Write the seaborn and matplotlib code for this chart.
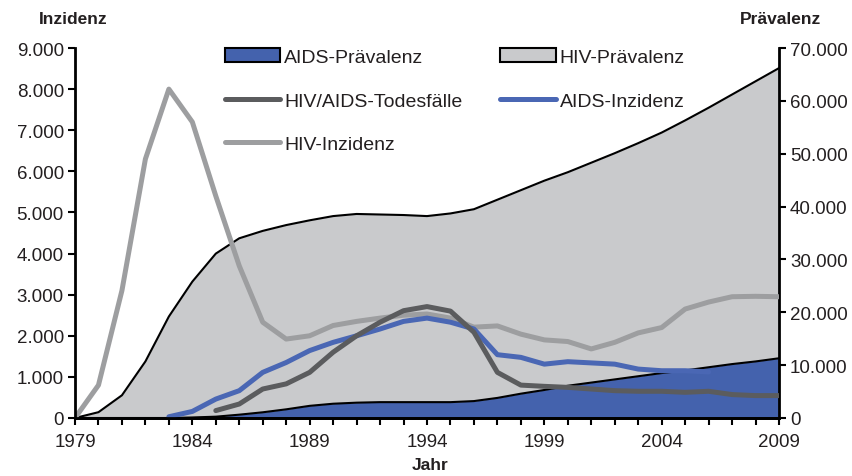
import numpy as np
import pandas as pd
import matplotlib
matplotlib.use("Agg")
import matplotlib.pyplot as plt
from matplotlib.patches import Patch
from matplotlib.lines import Line2D
from matplotlib.ticker import FuncFormatter
import seaborn as sns

# ---- data ----
YEARS = list(range(1979, 2010))

# right axis (Prävalenz), one value per year 1979-2009
HIV_PRAEVALENZ = [0, 1100, 4300, 10700, 19200, 25800, 31100, 34000, 35400, 36500,
                  37400, 38200, 38600, 38500, 38400, 38200, 38700, 39500, 41300, 43100,
                  44900, 46500, 48300, 50100, 52000, 54000, 56300, 58700, 61200, 63700,
                  66200]
AIDS_PRAEVALENZ = [0, 0, 0, 0, 0, 100, 250, 630, 1080, 1640,
                   2300, 2700, 2900, 3000, 3000, 3000, 3000, 3200, 3800, 4600,
                   5300, 6100, 6700, 7300, 7900, 8500, 9000, 9600, 10200, 10700,
                   11300]

# left axis (Inzidenz)
HIV_INZIDENZ = [0, 800, 3100, 6300, 8000, 7200, 5400, 3700, 2330, 1920,
                2000, 2250, 2350, 2430, 2500, 2530, 2430, 2210, 2240, 2040,
                1900, 1860, 1680, 1840, 2070, 2200, 2650, 2820, 2950, 2960,
                2950]
AIDS_INZ_YEARS = list(range(1983, 2007))
AIDS_INZIDENZ = [30, 160, 460, 665, 1110, 1350, 1640, 1840, 2000, 2165,
                 2350, 2430, 2330, 2165, 1540, 1475, 1310, 1370, 1340, 1310,
                 1190, 1150, 1150, 1120]
TOD_YEARS = list(range(1985, 2010))
TODESFAELLE = [180, 340, 705, 830, 1110, 1600, 2000, 2330, 2610, 2710,
               2600, 2085, 1110, 800, 770, 745, 705, 665, 650, 650,
               625, 650, 570, 545, 545]

C_AREA_GREY = "#c9cacc"
C_AREA_BLUE = "#4462ad"
C_BLUE_LINE = "#4a67b4"
C_DARK = "#5b5c5e"
C_LIGHT = "#9d9ea0"
C_TEXT = "#231f20"

sns.set_theme(style="ticks")
plt.rcParams["font.family"] = ["Liberation Sans", "DejaVu Sans"]

fig = plt.figure(figsize=(8.53, 4.77), dpi=100)
ax = fig.add_axes([75 / 853, 58 / 477, 704 / 853, 370 / 477])
ax2 = ax.twinx()
ax.set_zorder(ax2.get_zorder() + 1)
ax.patch.set_visible(False)

# areas on the Prävalenz axis
ax2.fill_between(YEARS, 0, HIV_PRAEVALENZ, color=C_AREA_GREY, lw=0)
ax2.plot(YEARS, HIV_PRAEVALENZ, color="black", lw=1.5)
ax2.fill_between(YEARS, 0, AIDS_PRAEVALENZ, color=C_AREA_BLUE, lw=0)
ax2.plot(YEARS, AIDS_PRAEVALENZ, color="black", lw=1.5)

# incidence lines
line_kw = dict(lw=3.6, solid_capstyle="round", solid_joinstyle="round")
sns.lineplot(x=YEARS, y=HIV_INZIDENZ, ax=ax, color=C_LIGHT, **line_kw)
sns.lineplot(x=AIDS_INZ_YEARS, y=AIDS_INZIDENZ, ax=ax, color=C_BLUE_LINE, **line_kw)
sns.lineplot(x=TOD_YEARS, y=TODESFAELLE, ax=ax, color=C_DARK, **line_kw)

ax.set_xlim(1979, 2009)
ax.set_ylim(0, 9000)
ax2.set_ylim(0, 70000)
ax.set_yticks(range(0, 9001, 1000))
ax2.set_yticks(range(0, 70001, 10000))
de_fmt = FuncFormatter(lambda v, p: f"{v:,.0f}".replace(",", "."))
ax.yaxis.set_major_formatter(de_fmt)
ax2.yaxis.set_major_formatter(de_fmt)
ax.set_xticks(YEARS)
ax.set_xticklabels([str(y) if (y - 1979) % 5 == 0 else "" for y in YEARS])
ax.set_xlabel("")
ax.set_ylabel("")

for a in (ax, ax2):
    a.tick_params(direction="out", length=5, width=1.5, colors="black",
                  labelcolor=C_TEXT, labelsize=13.5, pad=3)
    for s in a.spines.values():
        s.set_linewidth(2)
        s.set_color("black")
    a.spines["top"].set_visible(False)
    a.grid(False)
ax.spines["right"].set_visible(False)
ax2.spines["left"].set_visible(False)
ax.tick_params(axis="x", pad=6)

fig.text(73 / 853, 1 - 20 / 477, "Inzidenz", ha="center", va="center",
         fontsize=12.5, fontweight="bold", color=C_TEXT)
fig.text(781 / 853, 1 - 20 / 477, "Prävalenz", ha="center", va="center",
         fontsize=12.5, fontweight="bold", color=C_TEXT)
fig.text(430 / 853, 1 - 466 / 477, "Jahr", ha="center", va="center",
         fontsize=12.5, fontweight="bold", color=C_TEXT)

handles = [
    Patch(facecolor=C_AREA_BLUE, edgecolor="black", lw=1.5),
    Line2D([], [], color=C_DARK, **line_kw),
    Line2D([], [], color=C_LIGHT, **line_kw),
    Patch(facecolor=C_AREA_GREY, edgecolor="black", lw=1.5),
    Line2D([], [], color=C_BLUE_LINE, **line_kw),
]
labels = ["AIDS-Prävalenz", "HIV/AIDS-Todesfälle", "HIV-Inzidenz",
          "HIV-Prävalenz", "AIDS-Inzidenz"]
leg = ax.legend(handles, labels, ncol=2, loc="upper left",
                bbox_to_anchor=(225 / 853, 1 - 49 / 477), bbox_transform=fig.transFigure,
                frameon=False, fontsize=14, handlelength=2.85, handleheight=0.75,
                handletextpad=0.2, columnspacing=1.95, labelspacing=1.33,
                borderpad=0, borderaxespad=0)
for t in leg.get_texts():
    t.set_color(C_TEXT)

fig.savefig("out.png", dpi=100)
